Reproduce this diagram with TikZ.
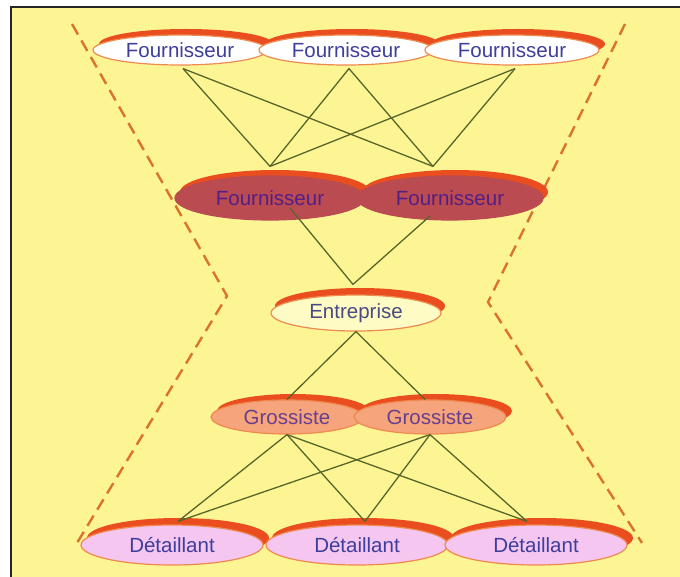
\documentclass[tikz,border=0pt]{standalone}
\usepackage{fontspec}
\setmainfont{Liberation Sans}
\usetikzlibrary{calc,shapes.geometric}
\definecolor{bg}{HTML}{FDF593}
\definecolor{shadowred}{HTML}{EA4E1E}
\definecolor{rimorange}{HTML}{EE8A50}
\definecolor{darkfill}{HTML}{BA4B50}
\definecolor{entfill}{HTML}{FFFBC4}
\definecolor{grofill}{HTML}{F6A47C}
\definecolor{detfill}{HTML}{F4C6F0}
\definecolor{txtblue}{HTML}{3E3E9C}
\definecolor{txtpurple}{HTML}{541E88}
\definecolor{txtgray}{HTML}{4A4A86}
\definecolor{txtgro}{HTML}{673F8E}
\definecolor{linkgreen}{HTML}{56662A}
\definecolor{dashorange}{HTML}{DC7230}
\begin{document}
\begin{tikzpicture}[x=1pt,y=-1pt,
  lbl/.style={font=\fontsize{20.5}{24}\selectfont},
  ell/.style={ellipse,inner sep=0pt,draw=rimorange,line width=1.2pt},
  fourn/.style={ell,lbl,minimum width=174pt,minimum height=30pt,fill=white,text=txtblue},
  fourndark/.style={ell,lbl,minimum width=190pt,minimum height=44pt,fill=darkfill,draw=darkfill,text=txtpurple},
  entr/.style={ell,lbl,minimum width=170pt,minimum height=36pt,fill=entfill,text=txtgray},
  gross/.style={ell,lbl,minimum width=152pt,minimum height=34pt,fill=grofill,text=txtgro},
  detail/.style={ell,lbl,minimum width=182pt,minimum height=40pt,fill=detfill,text=txtblue},
  link/.style={draw=linkgreen,line width=1.3pt},
  border/.style={dashorange,line width=2.4pt,dash pattern=on 12pt off 7pt}
]
\useasboundingbox (0,0) rectangle (680,577);
\fill[white] (0,0) rectangle (680,577);
\fill[bg] (11,7) rectangle (680,577);
\draw[line width=2pt,black!85] (11,577) -- (11,7) -- (680,7);

% dashed outline
\coordinate (la) at (72,24);
\coordinate (lb) at (227,296);
\coordinate (lc) at (77,543);
\coordinate (ra) at (625,24);
\coordinate (rb) at (488,302);
\coordinate (rc) at (642,543);
\draw[border] (la) -- (lb) -- (lc);
\draw[border] (ra) -- (rb) -- (rc);

% shadows
\foreach \cx/\cy/\rx/\ry in {180/50/87/15, 346/50/87/15, 512/50/87/15}
  \fill[shadowred] (\cx+6,\cy-6) ellipse [x radius=\rx, y radius=\ry];
\foreach \cx/\cy/\rx/\ry in {270/198/95/22, 450/198/93/22}
  \fill[shadowred] (\cx+5,\cy-6) ellipse [x radius=\rx, y radius=\ry];
\fill[shadowred] (360,306) ellipse [x radius=85, y radius=18];
\foreach \cx/\cy/\rx/\ry in {287/417/76/17, 430/417/76/17}
  \fill[shadowred] (\cx+6,\cy-6) ellipse [x radius=\rx, y radius=\ry];
\foreach \cx/\cy/\rx/\ry in {172/545/91/20, 357/545/91/20, 536/545/91/20}
  \fill[shadowred] (\cx+6,\cy-7) ellipse [x radius=\rx, y radius=\ry];

% nodes
\node[fourn] (T1) at (180,50) {Fournisseur};
\node[fourn] (T2) at (346,50) {Fournisseur};
\node[fourn] (T3) at (512,50) {Fournisseur};
\node[fourndark] (K1) at (270,198) {Fournisseur};
\node[fourndark,minimum width=186pt] (K2) at (450,198) {Fournisseur};
\node[entr] (E) at (356,313) {Entreprise};
\node[gross] (G1) at (287,417) {Grossiste};
\node[gross] (G2) at (430,417) {Grossiste};
\node[detail] (D1) at (172,545) {Détaillant};
\node[detail] (D2) at (357,545) {Détaillant};
\node[detail] (D3) at (536,545) {Détaillant};

% connectors
\foreach \t in {T1,T2,T3}{
  \draw[link] ($(\t.south)+(3,3)$) -- ($(K1.north)+(0,-9)$);
  \draw[link] ($(\t.south)+(3,3)$) -- ($(K2.north)+(-17,-9)$);
}
\draw[link] ($(K1.center)+(20,10)$) -- ($(E.north)+(-3,-10)$);
\draw[link] ($(K2.center)+(-20,18)$) -- ($(E.north)+(-3,-10)$);
\draw[link] (E.south) -- (G1.north);
\draw[link] (E.south) -- ($(G2.north)+(-5,0)$);
\foreach \g in {G1,G2}{
  \draw[link] (\g.south) -- ($(D1.north)+(6,-3)$);
  \draw[link] (\g.south) -- ($(D2.north)+(8,-3)$);
  \draw[link] (\g.south) -- ($(D3.north)+(-9,-3)$);
}
\end{tikzpicture}
\end{document}
